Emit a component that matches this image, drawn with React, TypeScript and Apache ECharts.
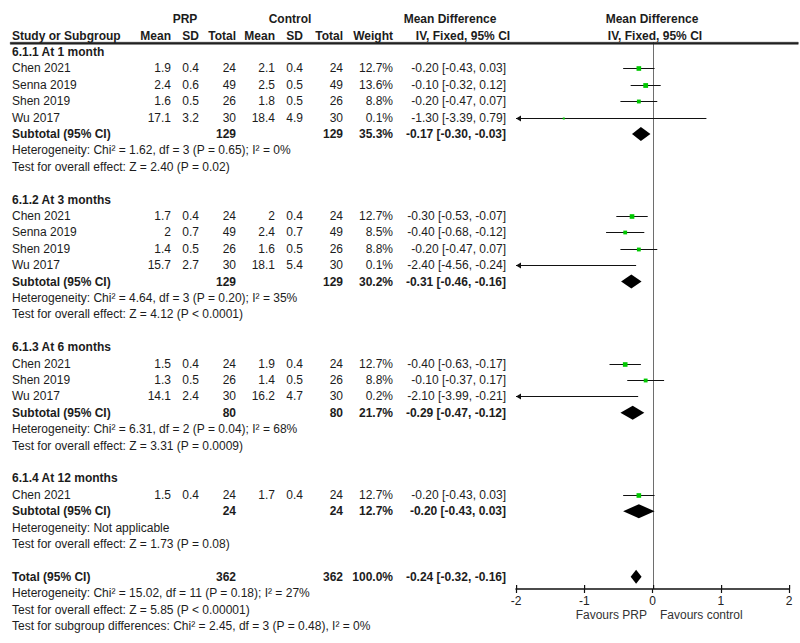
import React, { useEffect, useRef } from "react";
import * as echarts from "echarts";

// ---------- data ----------
const studyRows = [1, 2, 3, 4, 10, 11, 12, 13, 19, 20, 21, 27];
const studyNames = ["Chen 2021", "Senna 2019", "Shen 2019", "Wu 2017", "Chen 2021", "Senna 2019", "Shen 2019", "Wu 2017", "Chen 2021", "Shen 2019", "Wu 2017", "Chen 2021"];
const prpMean = ["1.9", "2.4", "1.6", "17.1", "1.7", "2", "1.4", "15.7", "1.5", "1.3", "14.1", "1.5"];
const prpSD = ["0.4", "0.6", "0.5", "3.2", "0.4", "0.7", "0.5", "2.7", "0.4", "0.5", "2.4", "0.4"];
const prpTotal = [24, 49, 26, 30, 24, 49, 26, 30, 24, 26, 30, 24];
const ctlMean = ["2.1", "2.5", "1.8", "18.4", "2", "2.4", "1.6", "18.1", "1.9", "1.4", "16.2", "1.7"];
const ctlSD = ["0.4", "0.5", "0.5", "4.9", "0.4", "0.7", "0.5", "5.4", "0.4", "0.5", "4.7", "0.4"];
const ctlTotal = [24, 49, 26, 30, 24, 49, 26, 30, 24, 26, 30, 24];
const studyWeight = [12.7, 13.6, 8.8, 0.1, 12.7, 8.5, 8.8, 0.1, 12.7, 8.8, 0.2, 12.7];
const studyMD = [-0.2, -0.1, -0.2, -1.3, -0.3, -0.4, -0.2, -2.4, -0.4, -0.1, -2.1, -0.2];
const studyLo = [-0.43, -0.32, -0.47, -3.39, -0.53, -0.68, -0.47, -4.56, -0.63, -0.37, -3.99, -0.43];
const studyHi = [0.03, 0.12, 0.07, 0.79, -0.07, -0.12, 0.07, -0.24, -0.17, 0.17, -0.21, 0.03];

const groupRows = [0, 9, 18, 26];
const groupLabels = ["6.1.1 At 1 month", "6.1.2 At 3 months", "6.1.3 At 6 months", "6.1.4 At 12 months"];

const subRows = [5, 14, 22, 28, 32];
const subLabels = ["Subtotal (95% CI)", "Subtotal (95% CI)", "Subtotal (95% CI)", "Subtotal (95% CI)", "Total (95% CI)"];
const subPrpTotal = [129, 129, 80, 24, 362];
const subCtlTotal = [129, 129, 80, 24, 362];
const subWeight = [35.3, 30.2, 21.7, 12.7, 100.0];
const subMD = [-0.17, -0.31, -0.29, -0.2, -0.24];
const subLo = [-0.3, -0.46, -0.47, -0.43, -0.32];
const subHi = [-0.03, -0.16, -0.12, 0.03, -0.16];

const noteRows = [6, 7, 15, 16, 23, 24, 29, 30, 33, 34, 35];
const noteTexts = [
  "Heterogeneity: Chi² = 1.62, df = 3 (P = 0.65); I² = 0%",
  "Test for overall effect: Z = 2.40 (P = 0.02)",
  "Heterogeneity: Chi² = 4.64, df = 3 (P = 0.20); I² = 35%",
  "Test for overall effect: Z = 4.12 (P < 0.0001)",
  "Heterogeneity: Chi² = 6.31, df = 2 (P = 0.04); I² = 68%",
  "Test for overall effect: Z = 3.31 (P = 0.0009)",
  "Heterogeneity: Not applicable",
  "Test for overall effect: Z = 1.73 (P = 0.08)",
  "Heterogeneity: Chi² = 15.02, df = 11 (P = 0.18); I² = 27%",
  "Test for overall effect: Z = 5.85 (P < 0.00001)",
  "Test for subgroup differences: Chi² = 2.45, df = 3 (P = 0.48), I² = 0%",
];

const xTicks = [-2, -1, 0, 1, 2];
const favourLeft = "Favours PRP";
const favourRight = "Favours control";

// ---------- layout ----------
const W = 800;
const H = 643;
const ROW0 = 52;
const ROWH = 16.4;
const GRID_TOP = 42;
const GRID_BOTTOM_Y = 589;
const RULE_LEFT = 10;
const RULE_RIGHT = 798;
const rowY = (r: number) => ROW0 + ROWH * r;
const FONT = "Liberation Sans, Arial, Helvetica, sans-serif";
const TXT = "#1c1c1c";
const FS = 12;

const COL = {
  name: 12,
  pMean: 171,
  pSD: 199,
  pTot: 236,
  cMean: 275,
  cSD: 303,
  cTot: 343,
  weight: 393,
  ci: 506,
};

const fmtCI = (m: number, lo: number, hi: number) =>
  `${m.toFixed(2)} [${lo.toFixed(2)}, ${hi.toFixed(2)}]`;

function txt(text: string, x: number, y: number, align: string, bold = false, color = TXT) {
  return {
    type: "text",
    silent: true,
    style: {
      text,
      x,
      y,
      align,
      verticalAlign: "middle",
      fill: color,
      font: `${bold ? "bold " : ""}${FS}px ${FONT}`,
    },
  };
}

export default function App() {
  const ref = useRef<HTMLDivElement>(null);

  useEffect(() => {
    if (!ref.current) return;
    const chart = echarts.init(ref.current, null, { renderer: "svg" });

    const yMin = (GRID_TOP - ROW0) / ROWH;
    const yMax = (GRID_BOTTOM_Y - ROW0) / ROWH;

    const graphics: any[] = [];
    // header rule
    graphics.push({
      type: "rect",
      left: RULE_LEFT,
      top: GRID_TOP,
      z: 100,
      silent: true,
      shape: { x: 0, y: 0, width: RULE_RIGHT - RULE_LEFT, height: 2 },
      style: { fill: "#222", stroke: "#222", lineWidth: 0.5 },
    });
    graphics.push(txt("PRP", 185, 19, "center", true));
    graphics.push(txt("Control", 290, 19, "center", true));
    graphics.push(txt("Mean Difference", 450, 19, "center", true));
    graphics.push(txt("Mean Difference", 652, 19, "center", true));
    graphics.push(txt("Study or Subgroup", COL.name, 36, "left", true));
    graphics.push(txt("Mean", COL.pMean, 36, "right", true));
    graphics.push(txt("SD", COL.pSD, 36, "right", true));
    graphics.push(txt("Total", COL.pTot, 36, "right", true));
    graphics.push(txt("Mean", COL.cMean, 36, "right", true));
    graphics.push(txt("SD", COL.cSD, 36, "right", true));
    graphics.push(txt("Total", COL.cTot, 36, "right", true));
    graphics.push(txt("Weight", COL.weight, 36, "right", true));
    graphics.push(txt("IV, Fixed, 95% CI", 463, 36, "center", true));
    graphics.push(txt("IV, Fixed, 95% CI", 655, 36, "center", true));

    groupRows.forEach((r, i) => graphics.push(txt(groupLabels[i], COL.name, rowY(r), "left", true)));

    studyRows.forEach((r, i) => {
      const y = rowY(r);
      graphics.push(txt(studyNames[i], COL.name, y, "left"));
      graphics.push(txt(prpMean[i], COL.pMean, y, "right"));
      graphics.push(txt(prpSD[i], COL.pSD, y, "right"));
      graphics.push(txt(String(prpTotal[i]), COL.pTot, y, "right"));
      graphics.push(txt(ctlMean[i], COL.cMean, y, "right"));
      graphics.push(txt(ctlSD[i], COL.cSD, y, "right"));
      graphics.push(txt(String(ctlTotal[i]), COL.cTot, y, "right"));
      graphics.push(txt(studyWeight[i].toFixed(1) + "%", COL.weight, y, "right"));
      graphics.push(txt(fmtCI(studyMD[i], studyLo[i], studyHi[i]), COL.ci, y, "right"));
    });

    subRows.forEach((r, i) => {
      const y = rowY(r);
      graphics.push(txt(subLabels[i], COL.name, y, "left", true));
      graphics.push(txt(String(subPrpTotal[i]), COL.pTot, y, "right", true));
      graphics.push(txt(String(subCtlTotal[i]), COL.cTot, y, "right", true));
      graphics.push(txt(subWeight[i].toFixed(1) + "%", COL.weight, y, "right", true));
      graphics.push(txt(fmtCI(subMD[i], subLo[i], subHi[i]), COL.ci, y, "right", true));
    });

    noteRows.forEach((r, i) => graphics.push(txt(noteTexts[i], COL.name, rowY(r), "left")));

    graphics.push(txt(favourLeft, 647, 615, "right", false, "#333"));
    graphics.push(txt(favourRight, 660, 615, "left", false, "#333"));

    const studyData = studyRows.map((r, i) => [studyMD[i], studyLo[i], studyHi[i], r, studyWeight[i]]);
    const subData = subRows.map((r, i) => [subMD[i], subLo[i], subHi[i], r]);

    const XMIN = xTicks[0];
    const XMAX = xTicks[xTicks.length - 1];

    const option: any = {
      animation: false,
      grid: {
        left: 516,
        right: W - 789,
        top: GRID_TOP,
        bottom: H - GRID_BOTTOM_Y,
        containLabel: false,
      },
      xAxis: {
        type: "value",
        min: XMIN,
        max: XMAX,
        interval: 1,
        position: "bottom",
        splitLine: { show: false },
        axisLine: { show: true, onZero: false, lineStyle: { color: "#111", width: 1.5 } },
        axisTick: { show: true, length: 4, lineStyle: { color: "#111", width: 1.2 } },
        axisLabel: { color: "#222", fontSize: FS, fontFamily: FONT, margin: 6 },
      },
      yAxis: {
        type: "value",
        inverse: true,
        min: yMin,
        max: yMax,
        show: false,
      },
      graphic: graphics,
      series: [
        {
          // frame: zero line, inner half of the crossing ticks
          type: "custom",
          name: "frame",
          clip: false,
          silent: true,
          data: [[0, 0]],
          encode: { x: 0, y: 1 },
          renderItem: (params: any, api: any) => {
            const top = api.coord([XMIN, yMin]);
            const bot = api.coord([XMIN, yMax]);
            const zTop = api.coord([0, yMin]);
            const ty = Math.round(top[1]);
            const by = Math.round(bot[1]);
            const zx = Math.round(zTop[0]);
            const children: any[] = [
              {
                type: "rect",
                shape: { x: zx, y: ty, width: 1, height: by - ty },
                style: { fill: "#6e6e6e" },
              },
            ];
            xTicks.forEach((t) => {
              const p = api.coord([t, yMax]);
              children.push({
                type: "rect",
                shape: { x: Math.round(p[0]), y: by - 4, width: 1.2, height: 4 },
                style: { fill: "#111" },
              });
            });
            return { type: "group", children };
          },
          z: 1,
        },
        {
          type: "custom",
          name: "studies",
          clip: false,
          encode: { x: 0, y: 3 },
          data: studyData,
          renderItem: (params: any, api: any) => {
            const m = api.value(0);
            const lo = api.value(1);
            const hi = api.value(2);
            const r = api.value(3);
            const w = api.value(4);
            const loC = Math.max(lo, XMIN);
            const hiC = Math.min(hi, XMAX);
            const pL = api.coord([loC, r]);
            const pH = api.coord([hiC, r]);
            const y = Math.round(pL[1]) + 0.5;
            const children: any[] = [
              {
                type: "line",
                shape: { x1: pL[0], y1: y, x2: pH[0], y2: y },
                style: { stroke: "#111", lineWidth: 1 },
              },
            ];
            if (lo < XMIN) {
              children.push({
                type: "polygon",
                shape: { points: [[pL[0], y], [pL[0] + 5, y - 3], [pL[0] + 5, y + 3]] },
                style: { fill: "#111" },
              });
            }
            if (hi > XMAX) {
              children.push({
                type: "polygon",
                shape: { points: [[pH[0], y], [pH[0] - 5, y - 3], [pH[0] - 5, y + 3]] },
                style: { fill: "#111" },
              });
            }
            if (m >= XMIN && m <= XMAX) {
              const pm = api.coord([m, r]);
              const s = Math.max(2, Math.sqrt(w) * 1.3);
              children.push({
                type: "rect",
                shape: { x: pm[0] - s / 2, y: y - s / 2, width: s, height: s },
                style: { fill: "#00c800" },
              });
            }
            return { type: "group", children };
          },
          z: 3,
        },
        {
          type: "custom",
          name: "pooled",
          clip: false,
          encode: { x: 0, y: 3 },
          data: subData,
          renderItem: (params: any, api: any) => {
            const m = api.value(0);
            const lo = api.value(1);
            const hi = api.value(2);
            const r = api.value(3);
            const pL = api.coord([lo, r]);
            const pH = api.coord([hi, r]);
            const pM = api.coord([m, r]);
            const h = 7;
            return {
              type: "polygon",
              shape: {
                points: [
                  [pL[0], pL[1]],
                  [pM[0], pM[1] - h],
                  [pH[0], pH[1]],
                  [pM[0], pM[1] + h],
                ],
              },
              style: { fill: "#000" },
            };
          },
          z: 4,
        },
      ],
    };

    chart.setOption(option);
    return () => chart.dispose();
  }, []);

  return (
    <div
      ref={ref}
      style={{ position: "fixed", left: 0, top: 0, width: W, height: H, background: "#fff" }}
    />
  );
}
